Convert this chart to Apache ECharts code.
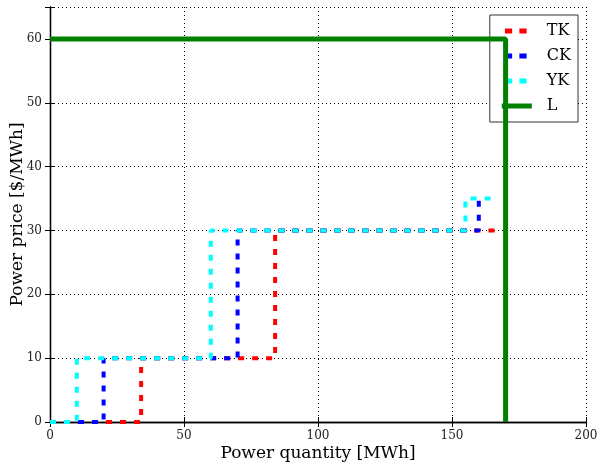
<!DOCTYPE html>
<html>
<head>
<meta charset="utf-8">
<script src="https://cdn.jsdelivr.net/npm/echarts@6/dist/echarts.min.js"></script>
<style>
  html, body { margin: 0; padding: 0; background: #fff; }
  #main { width: 598px; height: 465px; }
</style>
</head>
<body>
<div id="main"></div>
<script>
// step curves: [quantity, price]
const tkData = [[0, 0], [34, 0], [34, 10], [84, 10], [84, 30], [168, 30]];
const ckData = [[0, 0], [20, 0], [20, 10], [70, 10], [70, 30], [160, 30], [160, 35]];
const ykData = [[0, 0], [10, 0], [10, 10], [60, 10], [60, 30], [155, 30], [155, 35], [167, 35]];
const lData = [[0, 60], [170, 60], [170, 0]];

const yTicks = [0, 10, 20, 30, 40, 50, 60];

const serif = 'DejaVu Serif';

// legend icons: two short dashes, or one solid bar (same bounding box)
const dashIcon = 'path://M0,0L0.01,0M3,5h7v5h-7zM17,5h7v5h-7zM29,15L29.01,15';
const solidIcon = 'path://M0,0L0.01,0M0,5h29v5h-29zM29,15L29.01,15';

const dashed = (color) => ({
    color: color,
    width: 4,
    type: [6, 8],
    cap: 'butt'
});

const chart = echarts.init(document.getElementById('main'));

const axisCommon = {
    axisLine: { show: true, lineStyle: { color: '#000', width: 1.3 } },
    axisTick: { show: true, inside: true, length: 5, lineStyle: { color: '#000' } },
    splitLine: { show: false }
};

chart.setOption({
    animation: false,
    grid: { left: 50, right: 12, top: 7, bottom: 43, containLabel: false, outerBoundsMode: 'none' },
    legend: {
        right: 20,
        top: 15,
        orient: 'vertical',
        backgroundColor: '#fff',
        borderColor: '#333',
        borderWidth: 1,
        borderRadius: 0,
        padding: [8, 7, 8, 12],
        itemGap: 9,
        itemWidth: 30,
        itemHeight: 16,
        textStyle: { fontFamily: serif, fontSize: 16, color: '#000', padding: [0, 0, 0, 10] },
        data: [
            { name: 'TK', icon: dashIcon },
            { name: 'CK', icon: dashIcon },
            { name: 'YK', icon: dashIcon },
            { name: 'L', icon: solidIcon }
        ]
    },
    xAxis: [{
        type: 'value',
        min: 0,
        max: 200,
        interval: 50,
        name: 'Power quantity [MWh]',
        nameLocation: 'middle',
        nameGap: 23,
        nameMoveOverlap: false,
        nameTextStyle: { fontFamily: serif, fontSize: 17, color: '#000' },
        axisLabel: { fontFamily: serif, fontSize: 12, color: '#222', margin: 8 },
        ...axisCommon,
        splitLine: { show: true, lineStyle: { color: '#000', type: [1, 3], width: 1 } }
    }, {
        type: 'value', position: 'top', min: 0, max: 200, interval: 50,
        axisLabel: { show: false }, ...axisCommon
    }],
    yAxis: [{
        type: 'value',
        min: 0,
        max: 65,
        interval: 10,
        name: 'Power price [$/MWh]',
        nameLocation: 'middle',
        nameGap: 24,
        nameMoveOverlap: false,
        nameTextStyle: { fontFamily: serif, fontSize: 17, color: '#000' },
        axisLabel: {
            fontFamily: serif, fontSize: 12, color: '#222', margin: 8,
            formatter: (v) => (yTicks.indexOf(v) >= 0 ? String(v) : '')
        },
        ...axisCommon,
        splitLine: { show: true, lineStyle: { color: '#000', type: [1, 3], width: 1 } }
    }, {
        type: 'value', position: 'right', min: 0, max: 65, interval: 10,
        axisLabel: { show: false }, ...axisCommon
    }],
    series: [
        { name: 'TK', type: 'line', data: tkData, showSymbol: false, symbol: 'none', lineStyle: dashed('#ff0000'), itemStyle: { color: '#ff0000' }, z: 2 },
        { name: 'CK', type: 'line', data: ckData, showSymbol: false, symbol: 'none', lineStyle: dashed('#0000ff'), itemStyle: { color: '#0000ff' }, z: 3 },
        { name: 'YK', type: 'line', data: ykData, showSymbol: false, symbol: 'none', lineStyle: dashed('#00ffff'), itemStyle: { color: '#00ffff' }, z: 4 },
        { name: 'L', type: 'line', data: lData, showSymbol: false, symbol: 'none', lineStyle: { color: '#007f00', width: 5 }, itemStyle: { color: '#007f00' }, z: 5 }
    ]
});
</script>
</body>
</html>
